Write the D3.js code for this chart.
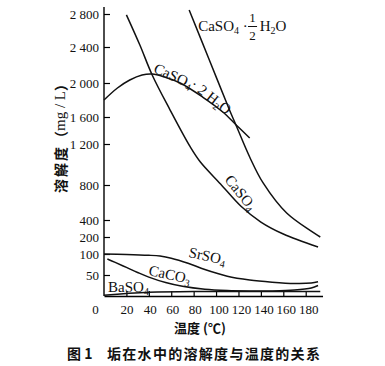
<!DOCTYPE html>
<html>
<head>
<meta charset="utf-8">
<script src="https://cdn.jsdelivr.net/npm/d3@7"></script>
<style>
  body { margin: 0; background: #fff; }
  text { fill: #111; }
</style>
</head>
<body>
<svg width="385" height="366"></svg>
<script>
// temperature (°C) / solubility (mg/L)
const caso4 = [[20,2790],[32,2424],[43,2089],[59,1682],[77,1171],[86,1024],[104,810],[122,560],[140,376],[160,235],[191,141]];
const caso4Half = [[76,2848],[94,2256],[112,1682],[117,1511],[130,1073],[142,820],[163,480],[193,200]];
const caso4Di = [[0,1800],[12,1941],[23,2033],[34,2089],[43,2100],[54,2067],[68,2000],[88,1835],[106,1659],[118,1481],[130,1289]];
const srso4 = [[0,100],[20,99],[40,97],[50,95],[60,90],[75,78],[90,63],[110,47],[130,38],[150,33],[170,30],[185,31],[191,34]];
const caco3 = [[3,88],[10,80],[20,68],[30,56],[40,45],[55,32],[70,23],[90,16],[110,13],[130,12],[150,12],[170,14],[185,19],[191,25]];
const baso4 = [[0,2],[20,6],[40,9],[80,11],[130,11],[193,11]];

const xTicks = [0,20,40,60,80,100,120,140,160,180];
const yTicks = [50,100,200,400,800,1200,1600,2000,2400,2800];
const yTickLabels = ["50","100","200","400","800","1 200","1 600","2 000","2 400","2 800"];

// the printed y axis is uneven, so the scale is piecewise
const yBreaks = [0,50,100,200,400,800,1200,1600,2000,2400,2800];
const yBreakPx = [296,275,254,237,220,185,144,117,83,47,14];

const svg = d3.select("svg");
const serif = "'Liberation Serif', 'DejaVu Serif', serif";
const cjk = "'Noto Sans CJK SC', sans-serif";

const x = d3.scaleLinear().domain([0,195]).range([104, 104 + 195 * 1.1206]);
const y = d3.scaleLinear().domain(yBreaks).range(yBreakPx);

// axes
const gx = svg.append("g")
    .attr("transform", `translate(0,${y(0)})`)
    .call(d3.axisBottom(x).tickValues(xTicks).tickSizeInner(-5).tickSizeOuter(0)
        .tickPadding(9).tickFormat(d3.format("d")));
gx.attr("font-family", serif).attr("font-size", 13);
gx.select(".domain").attr("stroke-width", 1.4);
gx.selectAll(".tick line").attr("stroke-width", 1.2);
gx.selectAll(".tick").filter(d => d === 0).select("line").remove();
gx.selectAll(".tick text").attr("dx", d => d === 0 ? -9 : d >= 100 ? 2.5 : d >= 40 ? 1 : 0);

const gy = svg.append("g")
    .attr("transform", `translate(${x(0)},0)`)
    .call(d3.axisLeft(y).tickValues(yTicks).tickSizeInner(-6).tickSizeOuter(0)
        .tickPadding(5).tickFormat((d, i) => yTickLabels[i]));
gy.attr("font-family", serif).attr("font-size", 13);
gy.select(".domain").remove();
gy.selectAll(".tick line").attr("stroke-width", 1.2);
gy.append("line")
    .attr("y1", y(0)).attr("y2", 7)
    .attr("stroke", "#000").attr("stroke-width", 1.4);

// curves
const line = d3.line()
    .x(d => x(d[0]))
    .y(d => y(d[1]))
    .curve(d3.curveCatmullRom.alpha(0.5));

[caso4, caso4Half, caso4Di, srso4, caco3, baso4].forEach(s => {
  svg.append("path")
      .attr("d", line(s))
      .attr("fill", "none")
      .attr("stroke", "#111")
      .attr("stroke-width", 1.5);
});

// chemical labels: parts are [text, isSubscript]
function chem(px, py, rot, parts) {
  const t = svg.append("text")
      .attr("transform", `translate(${px},${py}) rotate(${rot})`)
      .attr("font-family", serif)
      .attr("font-size", 15);
  let low = false;
  parts.forEach(([s, sub]) => {
    const ts = t.append("tspan").text(s);
    if (sub && !low) { ts.attr("dy", 3).attr("font-size", 10); low = true; }
    else if (sub) ts.attr("font-size", 10);
    else if (low) { ts.attr("dy", -3); low = false; }
  });
  return t;
}

// CaSO4 · 1/2 H2O
chem(x(84), y(2590), 0, [["CaSO"],["4",1],[" ·"]]);
svg.append("text").attr("x", x(132.6)).attr("y", 22).attr("text-anchor", "middle")
    .attr("font-family", serif).attr("font-size", 13).text("1");
svg.append("line").attr("x1", x(128.5)).attr("x2", x(136.6)).attr("y1", 26.5).attr("y2", 26.5)
    .attr("stroke", "#111").attr("stroke-width", 1);
svg.append("text").attr("x", x(132.6)).attr("y", 40).attr("text-anchor", "middle")
    .attr("font-family", serif).attr("font-size", 13).text("2");
chem(x(139), y(2590), 0, [["H"],["2",1],["O"]]);

// CaSO4 · 2 H2O
chem(x(43.4), y(2122), 24, [["CaSO"],["4",1]]);
chem(x(76.3), y(1960), 38, [["· 2 H"],["2",1],["O"]]);

chem(x(107), y(849), 51, [["CaSO"],["4",1]]);
chem(x(75), y(93), 12, [["SrSO"],["4",1]]);
chem(x(39.3), y(50), 12, [["CaCO"],["3",1]]);
chem(x(3.6), 292, 0, [["BaSO"],["4",1]]);

// axis titles and caption
svg.append("text")
    .attr("transform", "translate(60,135) rotate(-90)")
    .attr("text-anchor", "middle")
    .attr("dominant-baseline", "central")
    .attr("font-family", cjk).attr("font-weight", "bold").attr("font-size", 14)
    .call(t => {
      t.append("tspan").attr("letter-spacing", 2).text("溶解度");
      t.append("tspan").text("（");
      t.append("tspan").attr("font-family", serif).attr("font-weight", "normal").attr("font-size", 15).text("mg / L");
      t.append("tspan").text("）");
    });

svg.append("text")
    .attr("x", 200).attr("y", 332.5)
    .attr("text-anchor", "middle")
    .attr("font-family", cjk).attr("font-weight", "bold").attr("font-size", 13)
    .text("温度 (℃)");

svg.append("text")
    .attr("x", 67).attr("y", 359)
    .attr("font-family", cjk).attr("font-weight", "bold").attr("font-size", 14)
    .text("图 1");
svg.append("text")
    .attr("x", 107).attr("y", 359)
    .attr("font-family", cjk).attr("font-weight", "bold").attr("font-size", 14)
    .attr("letter-spacing", 1.3)
    .text("垢在水中的溶解度与温度的关系");
</script>
</body>
</html>
